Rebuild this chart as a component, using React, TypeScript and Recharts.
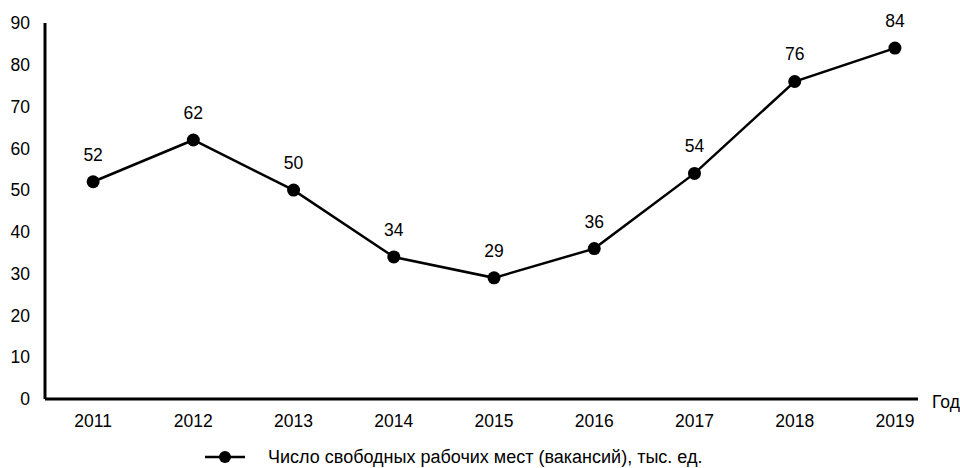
import { LineChart, Line, XAxis, YAxis, Legend, LabelList, Label } from 'recharts'

const years = [2011, 2012, 2013, 2014, 2015, 2016, 2017, 2018, 2019]
const vacancies = [52, 62, 50, 34, 29, 36, 54, 76, 84]
const yTicks = [0, 10, 20, 30, 40, 50, 60, 70, 80, 90]
// category boundaries where the small tick marks sit
const xMarkTicks = [2011.5, 2012.5, 2013.5, 2014.5, 2015.5, 2016.5, 2017.5, 2018.5, 2019.23]
const seriesName = 'Число свободных рабочих мест (вакансий), тыс. ед.'
const xTitle = 'Год'

const data = years.map((year, i) => ({ year, value: vacancies[i] }))

const font = '"Liberation Sans", Arial, sans-serif'
const fs = 17.5

function LegendContent() {
    return (
        <svg width={960} height={24} style={{ display: 'block', overflow: 'visible' }}>
            <line x1={205} x2={245} y1={12} y2={12} stroke="#000" strokeWidth={2.5} />
            <circle cx={225} cy={12} r={6} fill="#000" />
            <text x={268} y={12} dominantBaseline="central" fontSize={18} fontFamily={font} fill="#000">
                {seriesName}
            </text>
        </svg>
    )
}

export default function App() {
    return (
        <div style={{ position: 'absolute', left: 0, top: 0, background: '#fff' }}>
            <LineChart width={960} height={468} data={data} margin={{ top: 23, right: 42, left: 0, bottom: 15 }}>
                <YAxis
                    yAxisId="labels"
                    type="number"
                    domain={[0, 90]}
                    ticks={yTicks}
                    width={45}
                    axisLine={false}
                    tickLine={false}
                    tickSize={0}
                    tickMargin={15}
                    tick={{ fill: '#000', fontSize: fs, fontFamily: font }}
                />
                <YAxis
                    yAxisId="marks"
                    type="number"
                    domain={[0, 90]}
                    ticks={yTicks}
                    width={1}
                    mirror
                    tick={false}
                    tickSize={7}
                    tickLine={{ stroke: '#000', strokeWidth: 1.5 }}
                    axisLine={{ stroke: '#000', strokeWidth: 3 }}
                />
                <XAxis
                    xAxisId="marks"
                    dataKey="year"
                    type="number"
                    domain={[2010.52, 2019.23]}
                    ticks={xMarkTicks}
                    interval={0}
                    height={1}
                    mirror
                    tick={false}
                    tickSize={7}
                    tickLine={{ stroke: '#000', strokeWidth: 1.5 }}
                    axisLine={{ stroke: '#000', strokeWidth: 3 }}
                >
                    <Label value={xTitle} position="right" offset={14} dy={3} fill="#000" fontSize={fs} fontFamily={font} />
                </XAxis>
                <XAxis
                    xAxisId="labels"
                    dataKey="year"
                    type="number"
                    domain={[2010.52, 2019.23]}
                    ticks={years}
                    interval={0}
                    height={30}
                    axisLine={false}
                    tickLine={false}
                    tickSize={0}
                    tickMargin={16}
                    tick={{ fill: '#000', fontSize: fs, fontFamily: font }}
                />
                <Legend
                    verticalAlign="bottom"
                    content={<LegendContent />}
                    wrapperStyle={{ left: 0, top: 445, bottom: 'auto', width: 960 }}
                />
                <Line
                    xAxisId="labels"
                    yAxisId="labels"
                    dataKey="value"
                    name={seriesName}
                    type="linear"
                    stroke="#000"
                    strokeWidth={2.5}
                    dot={{ r: 6.5, fill: '#000', stroke: '#000', strokeWidth: 0 }}
                    activeDot={false}
                    isAnimationActive={false}
                >
                    <LabelList dataKey="value" position="top" offset={21} fill="#000" fontSize={fs} fontFamily={font} />
                </Line>
            </LineChart>
        </div>
    )
}
